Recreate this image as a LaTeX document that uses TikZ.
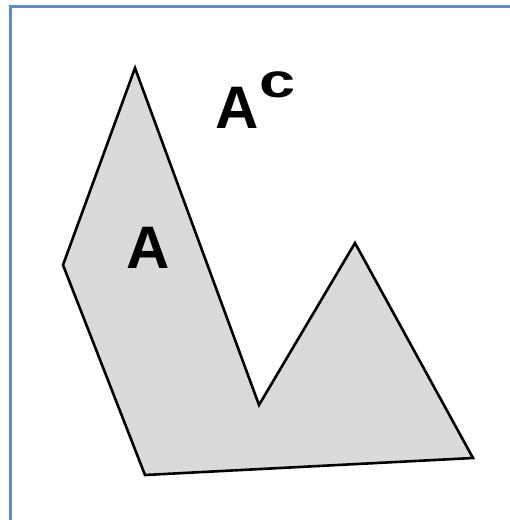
\documentclass[tikz,border=0pt]{standalone}
\usepackage{fontspec}
\setmainfont{Liberation Sans}
\usetikzlibrary{positioning}
\definecolor{frameblue}{RGB}{91,139,200}
\definecolor{setgray}{RGB}{218,218,218}
\tikzset{
  setlabel/.style={inner sep=0pt, anchor=base, font=\fontsize{60}{60}\selectfont\bfseries},
  suplabel/.style={inner sep=0pt, anchor=base west, font=\fontsize{48}{48}\selectfont\bfseries},
}
\begin{document}
\begin{tikzpicture}[x=1pt,y=-1pt]
\useasboundingbox (0,0) rectangle (510,520);
\draw[frameblue, line width=3pt] (10,520) -- (10,6) -- (510,6);
\draw[fill=setgray, line width=2.6pt] (135,68) -- (259,405) -- (355,243) -- (473,458) -- (145,475) -- (63,265) -- cycle;
\node[setlabel] (seta) at (148,268) {A};
\node[setlabel] (setac) at (237.5,128) {A};
\node[suplabel] (setacsup) at (259,97) {\scalebox{1.35}[1]{c}};
\end{tikzpicture}
\end{document}
